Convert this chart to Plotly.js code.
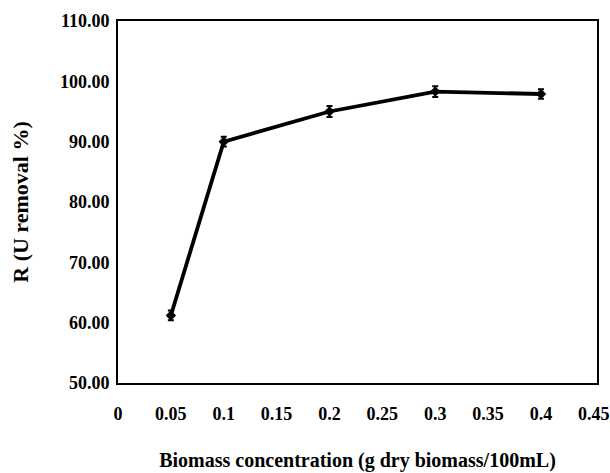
<!DOCTYPE html>
<html>
<head>
<meta charset="utf-8">
<script src="https://cdn.plot.ly/plotly-3.0.1.min.js"></script>
<style>html,body{margin:0;padding:0;background:#fff;}#chart{width:610px;height:473px;}</style>
</head>
<body>
<div id="chart"></div>
<script>
const biomass = [0.05, 0.1, 0.2, 0.3, 0.4];
const removal = [61.2, 90.0, 95.0, 98.3, 97.9];
const removalErr = [0.8, 0.8, 0.9, 0.9, 0.8];
const xTickVals = [0, 0.05, 0.1, 0.15, 0.2, 0.25, 0.3, 0.35, 0.4, 0.45];
const xTickText = ['0', '0.05', '0.1', '0.15', '0.2', '0.25', '0.3', '0.35', '0.4', '0.45'];
const yTickVals = [50, 60, 70, 80, 90, 100, 110];

const serif = "'Liberation Serif', 'DejaVu Serif', serif";

const trace = {
  x: biomass, y: removal, type: 'scatter', mode: 'lines+markers',
  line: {color: '#000', width: 3.8},
  marker: {symbol: 'diamond', size: 8, color: '#000'},
  error_y: {type: 'data', array: removalErr, visible: true, color: '#000', thickness: 2, width: 3},
  showlegend: false, hoverinfo: 'x+y'
};

const layout = {
  width: 610, height: 473,
  margin: {l: 118, r: 13, t: 21, b: 90},
  paper_bgcolor: '#fff', plot_bgcolor: '#fff',
  font: {family: serif, color: '#000', weight: 'bold'},
  xaxis: {
    range: [0, 0.453], tickvals: xTickVals, ticktext: xTickText,
    showline: true, linecolor: '#000', linewidth: 2, mirror: true,
    showgrid: false, zeroline: false, ticks: '', ticklabelstandoff: 13,
    tickfont: {size: 18, family: serif, weight: 'bold'},
    title: {text: 'Biomass concentration (g dry biomass/100mL)', font: {size: 20, family: serif, weight: 'bold'}, standoff: 30}
  },
  yaxis: {
    range: [50, 110], tickvals: yTickVals, tickformat: '.2f',
    showline: true, linecolor: '#000', linewidth: 2, mirror: true,
    showgrid: false, zeroline: false, ticks: '', ticklabelstandoff: 3,
    tickfont: {size: 18, family: serif, weight: 'bold'},
    title: {text: 'R (U removal %)', font: {size: 22, family: serif, weight: 'bold'}, standoff: 25}
  }
};

Plotly.newPlot('chart', [trace], layout, {displayModeBar: false, staticPlot: true});
</script>
</body>
</html>
